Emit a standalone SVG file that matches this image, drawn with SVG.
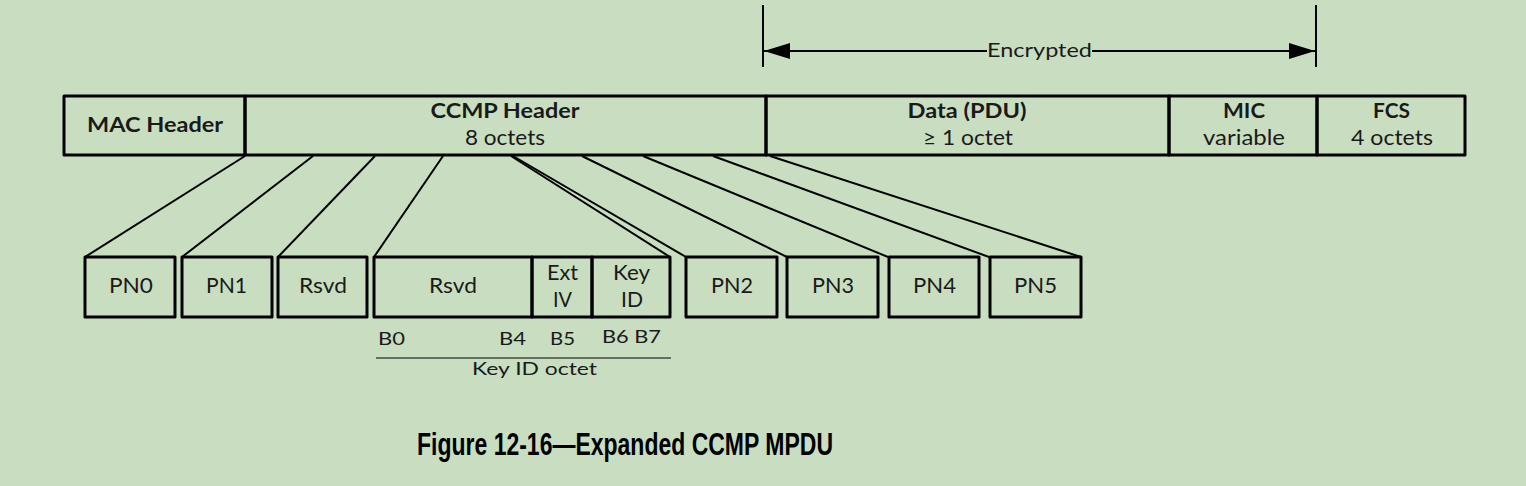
<svg xmlns="http://www.w3.org/2000/svg" width="1526" height="486" viewBox="0 0 1526 486">
<style>
.box{fill:none;stroke:#000;stroke-width:3;stroke-linejoin:round}
.ln{stroke:#000;stroke-width:2;fill:none}
.t{font-family:Lato,"Open Sans","Liberation Sans",sans-serif;fill:#1a1a1a;text-anchor:middle}
.b{font-weight:bold;font-size:21px}
.r{font-size:21px}
.s{font-size:18px}
.cap{font-family:"Liberation Sans",Arial,sans-serif;font-weight:bold;font-size:31px;fill:#000}
</style>
<defs>
<marker id="ah" viewBox="0 0 26 16" refX="26" refY="8" markerWidth="26" markerHeight="16" markerUnits="userSpaceOnUse" orient="auto-start-reverse">
<path d="M0,0 L26,8 L0,16 Z" fill="#000"/>
</marker>
</defs>
<rect width="1526" height="486" fill="#c9dec0"/>
<g id="encrypted">
<line class="ln" x1="763" y1="5" x2="763" y2="67"/>
<line class="ln" x1="1316" y1="5" x2="1316" y2="67"/>
<line class="ln" x1="764" y1="51" x2="987" y2="51" marker-start="url(#ah)"/>
<line class="ln" x1="1092" y1="51" x2="1315" y2="51" marker-end="url(#ah)"/>
<text class="t" x="1039.5" y="57" style="font-size:19px" textLength="105" lengthAdjust="spacingAndGlyphs">Encrypted</text>
</g>
<g id="mac-header"><rect class="box" x="64" y="96" width="181" height="59"/><text class="t b" x="155" y="132" textLength="136" lengthAdjust="spacingAndGlyphs">MAC Header</text></g>
<g id="ccmp-header"><rect class="box" x="245" y="96" width="521" height="59"/><text class="t b" x="505" y="118" textLength="149" lengthAdjust="spacingAndGlyphs">CCMP Header</text><text class="t r" x="505" y="145" textLength="80" lengthAdjust="spacingAndGlyphs">8 octets</text></g>
<g id="data"><rect class="box" x="766" y="96" width="403" height="59"/><text class="t b" x="967" y="118" textLength="119" lengthAdjust="spacingAndGlyphs">Data (PDU)</text><text class="t r" x="968" y="145" textLength="90" lengthAdjust="spacingAndGlyphs">≥ 1 octet</text></g>
<g id="mic"><rect class="box" x="1169" y="96" width="148" height="59"/><text class="t b" x="1244" y="118" textLength="42" lengthAdjust="spacingAndGlyphs">MIC</text><text class="t r" x="1244" y="145" textLength="82" lengthAdjust="spacingAndGlyphs">variable</text></g>
<g id="fcs"><rect class="box" x="1317" y="96" width="148" height="59"/><text class="t b" x="1391.5" y="118" textLength="37" lengthAdjust="spacingAndGlyphs">FCS</text><text class="t r" x="1392" y="145" textLength="82" lengthAdjust="spacingAndGlyphs">4 octets</text></g>
<g id="connectors">
<line class="ln" x1="245" y1="156" x2="85" y2="257"/>
<line class="ln" x1="313" y1="156" x2="182" y2="257"/>
<line class="ln" x1="375" y1="156" x2="278" y2="257"/>
<line class="ln" x1="443" y1="156" x2="374" y2="257"/>
<line class="ln" x1="511" y1="156" x2="670" y2="257"/>
<line class="ln" x1="513" y1="156" x2="686" y2="257"/>
<line class="ln" x1="582" y1="156" x2="787" y2="257"/>
<line class="ln" x1="643" y1="156" x2="888" y2="257"/>
<line class="ln" x1="713" y1="156" x2="989" y2="257"/>
<line class="ln" x1="770" y1="156" x2="1081" y2="257"/>
</g>
<g id="pn0"><rect class="box" x="85" y="257" width="90" height="60"/><text class="t r" x="131" y="293" textLength="44" lengthAdjust="spacingAndGlyphs">PN0</text></g>
<g id="pn1"><rect class="box" x="182" y="257" width="90" height="60"/><text class="t r" x="226.5" y="293" textLength="41" lengthAdjust="spacingAndGlyphs">PN1</text></g>
<g id="rsvd1"><rect class="box" x="278" y="257" width="89" height="60"/><text class="t r" x="323" y="293" textLength="48" lengthAdjust="spacingAndGlyphs">Rsvd</text></g>
<g id="rsvd2"><rect class="box" x="374" y="257" width="158" height="60"/><text class="t r" x="453" y="293" textLength="48" lengthAdjust="spacingAndGlyphs">Rsvd</text></g>
<g id="extiv"><rect class="box" x="532" y="257" width="60" height="60"/><text class="t r" x="562.5" y="280" textLength="31" lengthAdjust="spacingAndGlyphs">Ext</text><text class="t r" x="562.5" y="307" textLength="19" lengthAdjust="spacingAndGlyphs">IV</text></g>
<g id="keyid"><rect class="box" x="592" y="257" width="78" height="60"/><text class="t r" x="631.5" y="280" textLength="37" lengthAdjust="spacingAndGlyphs">Key</text><text class="t r" x="632" y="307" textLength="22" lengthAdjust="spacingAndGlyphs">ID</text></g>
<g id="pn2"><rect class="box" x="686" y="257" width="91" height="60"/><text class="t r" x="732" y="293" textLength="42" lengthAdjust="spacingAndGlyphs">PN2</text></g>
<g id="pn3"><rect class="box" x="787" y="257" width="91" height="60"/><text class="t r" x="833" y="293" textLength="42" lengthAdjust="spacingAndGlyphs">PN3</text></g>
<g id="pn4"><rect class="box" x="889" y="257" width="90" height="60"/><text class="t r" x="934.5" y="293" textLength="43" lengthAdjust="spacingAndGlyphs">PN4</text></g>
<g id="pn5"><rect class="box" x="990" y="257" width="91" height="60"/><text class="t r" x="1035.5" y="293" textLength="43" lengthAdjust="spacingAndGlyphs">PN5</text></g>
<g id="keyid-octet">
<text class="t s" x="391.5" y="345" textLength="27" lengthAdjust="spacingAndGlyphs">B0</text>
<text class="t s" x="512.5" y="345" textLength="27" lengthAdjust="spacingAndGlyphs">B4</text>
<text class="t s" x="562.5" y="345" textLength="25" lengthAdjust="spacingAndGlyphs">B5</text>
<text class="t s" x="631.5" y="343" textLength="59" lengthAdjust="spacingAndGlyphs">B6 B7</text>
<line x1="376" y1="358" x2="671" y2="358" stroke="#000" stroke-width="1.2"/>
<text class="t" x="534.5" y="375" style="font-size:18px" textLength="125" lengthAdjust="spacingAndGlyphs">Key ID octet</text>
</g>
<text class="cap" x="417" y="455" textLength="416" lengthAdjust="spacingAndGlyphs">Figure 12-16—Expanded CCMP MPDU</text>
</svg>
